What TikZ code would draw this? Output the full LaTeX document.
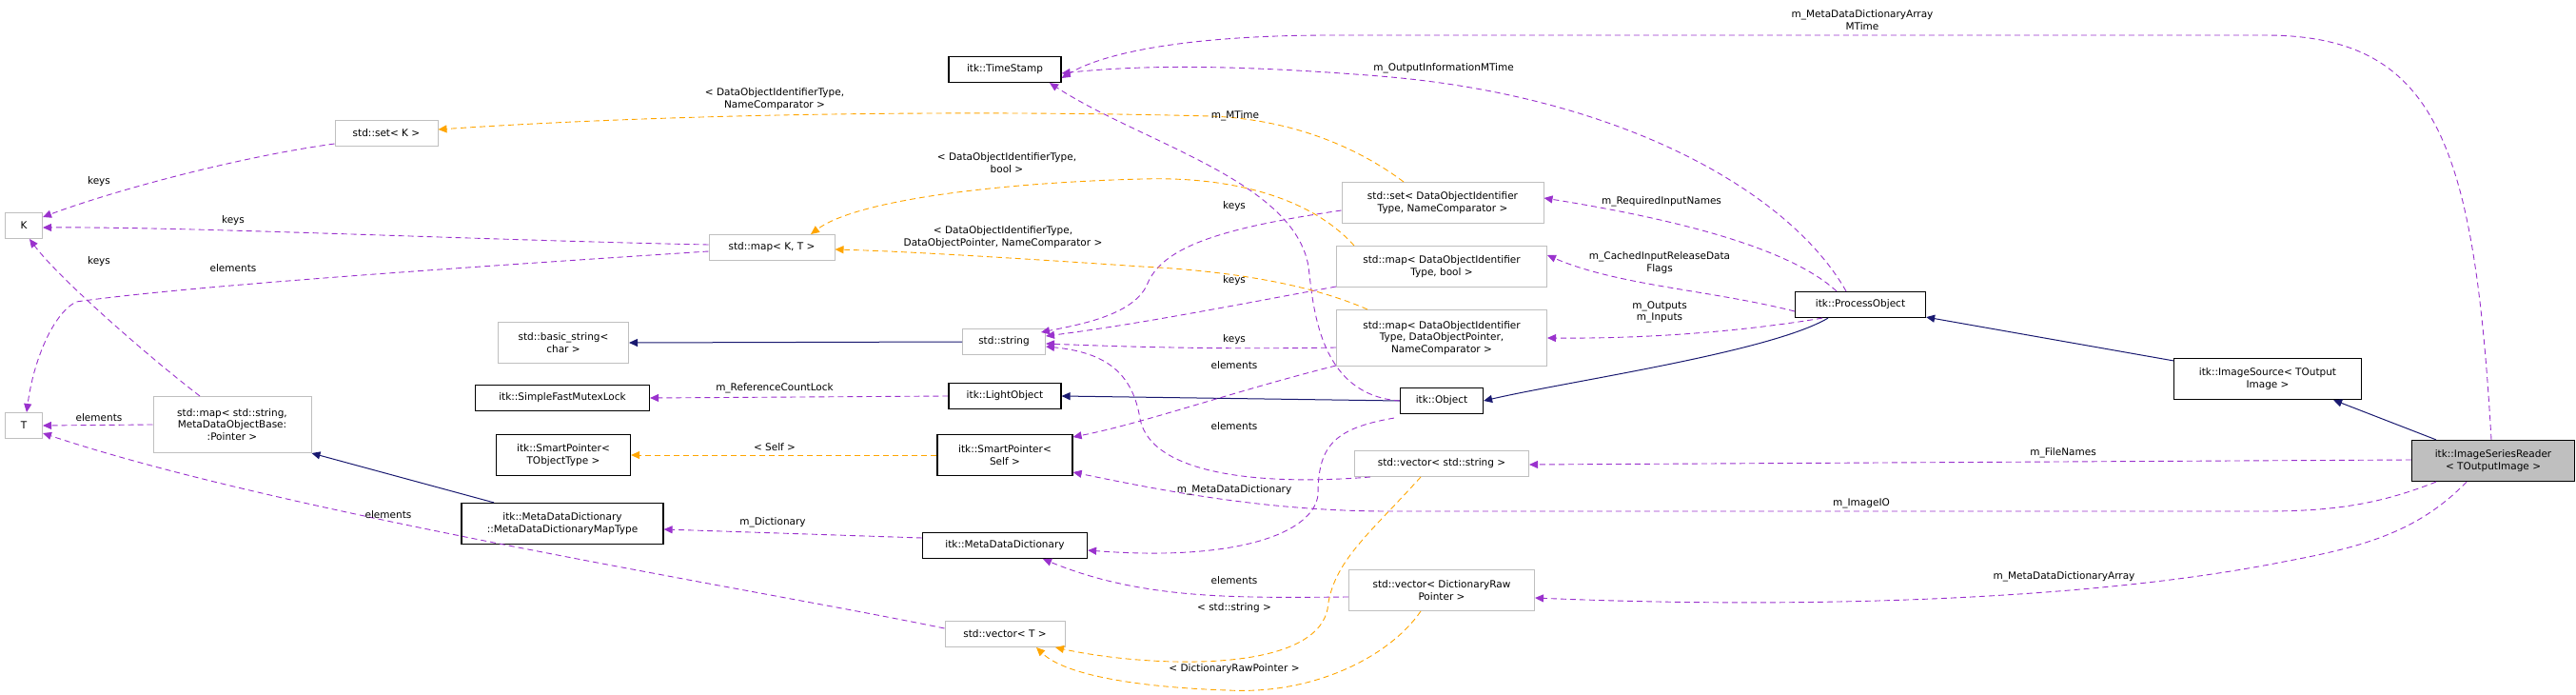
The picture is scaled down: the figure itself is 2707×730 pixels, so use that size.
\documentclass[tikz,border=0pt]{standalone}
\usepackage{fontspec}
\setmainfont{DejaVu Sans}
\usetikzlibrary{arrows.meta}

\begin{document}
\begin{tikzpicture}[
  x=1pt, y=-1pt,
  every node/.style={font=\fontsize{10.5}{12.5}\selectfont, inner sep=0pt, align=center},
  cls/.style={rectangle, draw=black, line width=1.2pt, fill=white},
  stdcls/.style={rectangle, draw=black!25, line width=1pt, fill=white},
  main/.style={rectangle, draw=black, line width=1.2pt, fill=black!25},
  lbl/.style={fill=none},
  use/.style={-{Triangle[length=9pt,width=8pt]}, dash pattern=on 6pt off 4pt, draw=usecol, line width=0.9pt},
  tpl/.style={-{Triangle[length=9pt,width=8pt]}, dash pattern=on 6pt off 4pt, draw=tplcol, line width=0.9pt},
  inh/.style={-{Triangle[length=9pt,width=8pt]}, draw=inhcol, line width=1pt}
]
\definecolor{usecol}{HTML}{9A32CD}
\definecolor{tplcol}{HTML}{FFA500}
\definecolor{inhcol}{HTML}{191970}
\useasboundingbox (0,0) rectangle (2707,730);

% classes
\node[main, minimum width=171pt, minimum height=43pt] (reader) at (2620,484) {itk::ImageSeriesReader\\< TOutputImage >};
\node[cls, minimum width=197pt, minimum height=43pt] (source) at (2383,398) {itk::ImageSource< TOutput\\Image >};
\node[cls, minimum width=137pt, minimum height=27pt] (procobj) at (1955,320) {itk::ProcessObject};
\node[cls, minimum width=87pt, minimum height=27pt] (object) at (1515,421) {itk::Object};
\node[cls, minimum width=118pt, minimum height=27pt] (timestamp) at (1056,73) {itk::TimeStamp};
\node[cls, minimum width=118pt, minimum height=27pt] (lightobj) at (1056,416) {itk::LightObject};
\node[cls, minimum width=142pt, minimum height=43pt] (spself) at (1056,478) {itk::SmartPointer<\\Self >};
\node[cls, minimum width=173pt, minimum height=27pt] (mdd) at (1056,573) {itk::MetaDataDictionary};
\node[cls, minimum width=183pt, minimum height=27pt] (mutex) at (591,418) {itk::SimpleFastMutexLock};
\node[cls, minimum width=141pt, minimum height=43pt] (sptype) at (592,478) {itk::SmartPointer<\\TObjectType >};
\node[cls, minimum width=212pt, minimum height=43pt] (mapdict) at (591,550) {itk::MetaDataDictionary\\::MetaDataDictionaryMapType};

% std containers
\node[stdcls, minimum width=212pt, minimum height=43pt] (setdoi) at (1516,213) {std::set< DataObjectIdentifier\\Type, NameComparator >};
\node[stdcls, minimum width=221pt, minimum height=43pt] (mapbool) at (1515,280) {std::map< DataObjectIdentifier\\Type, bool >};
\node[stdcls, minimum width=221pt, minimum height=59pt] (mapptr) at (1515,355) {std::map< DataObjectIdentifier\\Type, DataObjectPointer,\\NameComparator >};
\node[stdcls, minimum width=183pt, minimum height=27pt] (vecstr) at (1515,487) {std::vector< std::string >};
\node[stdcls, minimum width=195pt, minimum height=43pt] (vecraw) at (1515,620) {std::vector< DictionaryRaw\\Pointer >};
\node[stdcls, minimum width=87pt, minimum height=27pt] (string) at (1055,359) {std::string};
\node[stdcls, minimum width=137pt, minimum height=43pt] (basicstr) at (592,360) {std::basic\_string<\\char >};
\node[stdcls, minimum width=126pt, minimum height=27pt] (vect) at (1056,666) {std::vector< T >};
\node[stdcls, minimum width=132pt, minimum height=27pt] (mapkt) at (811,260) {std::map< K, T >};
\node[stdcls, minimum width=108pt, minimum height=27pt] (setk) at (406,140) {std::set< K >};
\node[stdcls, minimum width=166pt, minimum height=59pt] (mapmeta) at (244,446) {std::map< std::string,\\MetaDataObjectBase:\\:Pointer >};
\node[stdcls, minimum width=39pt, minimum height=27pt] (K) at (25,237) {K};
\node[stdcls, minimum width=39pt, minimum height=27pt] (T) at (25,447) {T};

% inheritance
\draw[inh] ([xshift=-60pt]reader.north) -- ([xshift=-30pt]source.south east);
\draw[inh] ([yshift=-3pt]source.north west) -- ([yshift=1pt]procobj.south east);
\draw[inh] ([xshift=-34pt]procobj.south) .. controls (1860,370) and (1650,400) .. (object.east);
\draw[inh] (object.west) -- (lightobj.east);
\draw[inh] (string.west) -- (basicstr.east);
\draw[inh] ([xshift=-72pt]mapdict.north) -- (mapmeta.south east);

% members
\draw[use] ([xshift=-2pt]reader.north) .. controls (2600,150) and (2560,37) .. (2380,37) -- (1400,37) .. controls (1250,37) and (1160,55) .. ([yshift=-9pt]timestamp.east);
\draw[use] ([xshift=-15pt]procobj.north) .. controls (1880,200) and (1700,100) .. (1450,80) .. controls (1300,68) and (1200,68) .. ([yshift=-4pt]timestamp.east);
\draw[use] (object.west) .. controls (1385,415) and (1380,320) .. (1375,280) .. controls (1360,190) and (1200,150) .. ([xshift=47pt]timestamp.south);
\draw[use] ([xshift=-25pt]procobj.north) .. controls (1880,260) and (1760,230) .. ([yshift=5pt]setdoi.east);
\draw[use] ([yshift=-7pt]procobj.west) .. controls (1800,305) and (1700,300) .. ([yshift=12pt]mapbool.east);
\draw[use] ([xshift=-40pt]procobj.south) .. controls (1850,345) and (1750,356) .. (mapptr.east);
\draw[use] ([yshift=1pt]reader.west) -- ([yshift=-1pt]vecstr.east);
\draw[use] ([xshift=-60pt]reader.south) .. controls (2500,530) and (2450,537) .. (2380,537) -- (1460,537) .. controls (1330,537) and (1220,515) .. ([yshift=-18pt]spself.east);
\draw[use] ([xshift=-28pt]reader.south) .. controls (2540,560) and (2480,575) .. (2400,590) .. controls (2200,630) and (1900,640) .. ([yshift=-8pt]vecraw.east);
\draw[use] ([yshift=-8pt]setdoi.west) .. controls (1280,240) and (1220,260) .. (1205,300) .. controls (1190,330) and (1140,340) .. ([xshift=-5pt,yshift=10pt]string.east);
\draw[use] ([yshift=-21pt]mapbool.west) .. controls (1300,320) and (1200,340) .. ([yshift=6pt]string.east);
\draw[use] ([yshift=-10pt]mapptr.west) .. controls (1300,367) and (1200,365) .. ([yshift=-2pt]string.east);
\draw[use] ([yshift=-29pt]mapptr.west) .. controls (1300,410) and (1200,445) .. ([yshift=19pt]spself.east);
\draw[use] ([xshift=-75pt]vecstr.south) .. controls (1330,510) and (1210,500) .. (1198,440) .. controls (1190,390) and (1160,370) .. ([yshift=-5pt]string.east);
\draw[use] ([xshift=-6pt,yshift=-4pt]object.south west) .. controls (1400,450) and (1385,470) .. (1385,520) .. controls (1380,560) and (1300,590) .. ([yshift=-5pt]mdd.east);
\draw[use] ([yshift=-7pt]vecraw.west) .. controls (1300,628) and (1200,630) .. ([xshift=40pt]mdd.south);
\draw[tpl] ([xshift=-22pt]vecstr.south) .. controls (1440,560) and (1400,590) .. (1395,640) .. controls (1380,710) and (1200,700) .. ([xshift=53pt]vect.south);
\draw[tpl] ([xshift=-22pt]vecraw.south) .. controls (1460,690) and (1380,730) .. (1290,725) .. controls (1200,722) and (1120,710) .. ([xshift=33pt]vect.south);
\draw[use] ([yshift=8pt]mdd.west) -- ([yshift=-6pt]mapdict.east);
\draw[tpl] (spself.west) -- (sptype.east);
\draw[use] (lightobj.west) -- (mutex.east);
\draw[tpl] ([xshift=-41pt]setdoi.north) .. controls (1420,150) and (1350,125) .. (1272,122) .. controls (1000,115) and (700,120) .. ([yshift=4pt]setk.east);
\draw[tpl] ([xshift=-92pt]mapbool.north) .. controls (1380,210) and (1300,185) .. (1200,188) .. controls (1050,192) and (900,210) .. ([xshift=41pt]mapkt.north);
\draw[tpl] ([xshift=-78pt]mapptr.north) .. controls (1380,300) and (1300,285) .. (1200,280) .. controls (1050,270) and (950,264) .. ([yshift=-2pt]mapkt.east);
\draw[use] ([yshift=-11pt]setk.west) .. controls (250,165) and (120,200) .. ([yshift=9pt]K.east);
\draw[use] ([yshift=3pt]mapkt.west) .. controls (500,252) and (200,238) .. ([yshift=-2pt]K.east);
\draw[use] ([yshift=-4pt]mapkt.west) .. controls (500,280) and (200,300) .. (80,317) .. controls (55,330) and (35,380) .. ([xshift=3pt]T.north);
\draw[use] ([xshift=-34pt]mapmeta.north) .. controls (150,370) and (60,290) .. ([xshift=6pt]K.south);
\draw[use] (mapmeta.west) -- (T.east);
\draw[use] ([yshift=6pt]vect.west) .. controls (800,620) and (300,540) .. ([yshift=-8pt]T.east);

% labels
\node[lbl] (lmdtime) at (1957,21) {m\_MetaDataDictionaryArray\\MTime};
\node[lbl] (loutinfo) at (1517,72) {m\_OutputInformationMTime};
\node[lbl] (lmtime) at (1298,122) {m\_MTime};
\node[lbl] (lsetdoi) at (814,104) {< DataObjectIdentifierType,\\NameComparator >};
\node[lbl] (lmapbool) at (1058,171) {< DataObjectIdentifierType,\\bool >};
\node[lbl] (lmapptr) at (1054,249) {< DataObjectIdentifierType,\\DataObjectPointer, NameComparator >};
\node[lbl] (lkeysa) at (104,191) {keys};
\node[lbl] (lkeysb) at (245,232) {keys};
\node[lbl] (lkeysc) at (104,275) {keys};
\node[lbl] (lelema) at (245,282) {elements};
\node[lbl] (lelemb) at (104,439) {elements};
\node[lbl] (lelemc) at (408,541) {elements};
\node[lbl] (lrefcnt) at (814,408) {m\_ReferenceCountLock};
\node[lbl] (lself) at (814,470) {< Self >};
\node[lbl] (ldict) at (812,549) {m\_Dictionary};
\node[lbl] (lkeysd) at (1297,217) {keys};
\node[lbl] (lkeyse) at (1297,295) {keys};
\node[lbl] (lkeysf) at (1297,357) {keys};
\node[lbl] (leleme) at (1297,384) {elements};
\node[lbl] (lelemf) at (1297,448) {elements};
\node[lbl] (lmeta) at (1297,515) {m\_MetaDataDictionary};
\node[lbl] (limageio) at (1956,529) {m\_ImageIO};
\node[lbl] (lelemg) at (1297,610) {elements};
\node[lbl] (lstdstr) at (1297,639) {< std::string >};
\node[lbl] (lrawptr) at (1297,703) {< DictionaryRawPointer >};
\node[lbl] (lreqin) at (1746,212) {m\_RequiredInputNames};
\node[lbl] (lcached) at (1744,276) {m\_CachedInputReleaseData\\Flags};
\node[lbl] (loutin) at (1744,328) {m\_Outputs\\m\_Inputs};
\node[lbl] (lfiles) at (2168,476) {m\_FileNames};
\node[lbl] (lmdarr) at (2169,606) {m\_MetaDataDictionaryArray};
\end{tikzpicture}
\end{document}
